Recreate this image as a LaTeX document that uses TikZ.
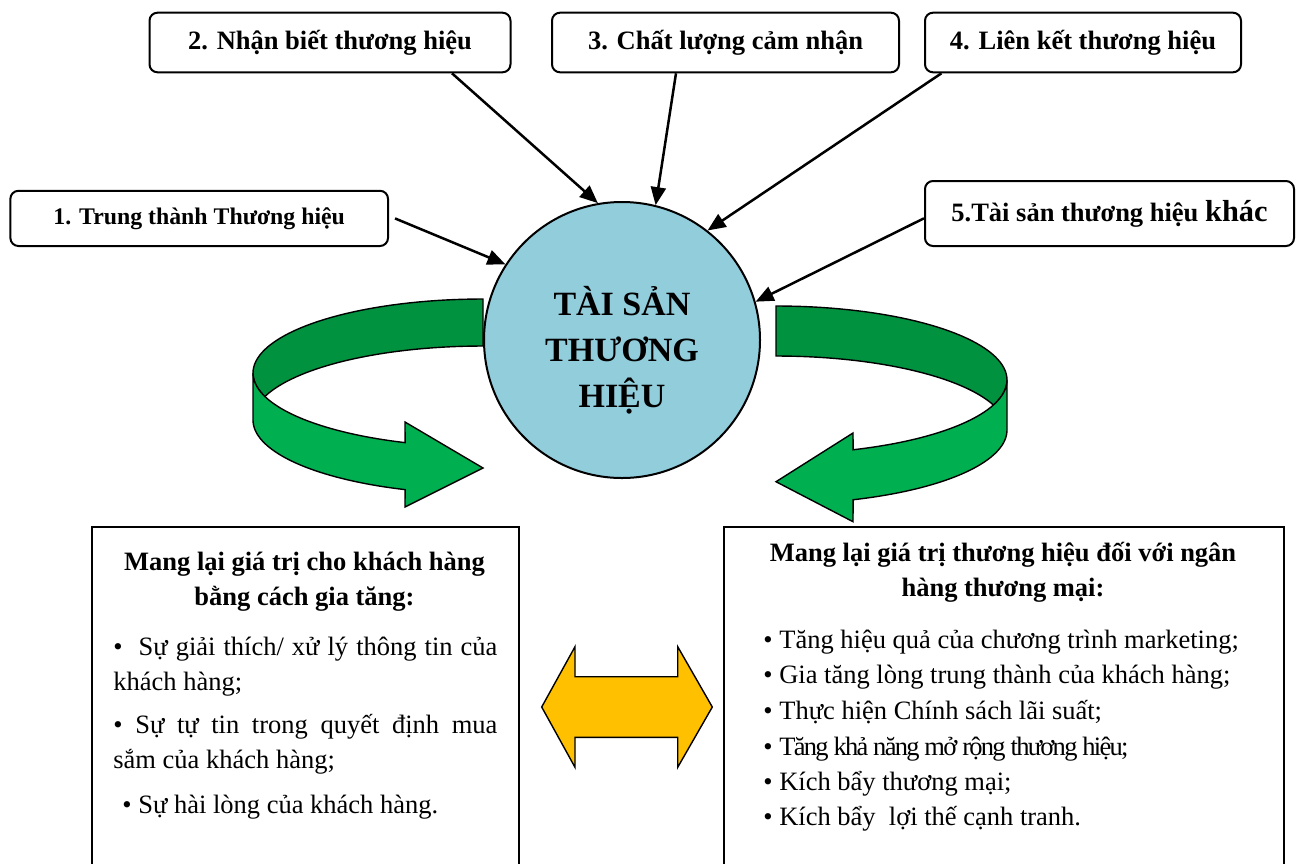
\documentclass[tikz,border=0pt]{standalone}
\usepackage{fontspec}
\setmainfont{Liberation Serif}
\usetikzlibrary{arrows.meta,calc}
\definecolor{circfill}{HTML}{92CDDC}
\definecolor{dkgreen}{HTML}{00923F}
\definecolor{ltgreen}{HTML}{00B050}
\definecolor{gold}{HTML}{FFC000}
\begin{document}
\begin{tikzpicture}[x=0.5pt,y=-0.5pt,
  topbox/.style={draw, line width=1pt, rounded corners=4pt, inner sep=0pt,
    font=\fontsize{13.25}{16}\selectfont\bfseries, minimum height=29.8pt},
  link/.style={line width=1.25pt, -{Triangle[length=9pt,width=7.5pt]}},
  body/.style={inner sep=0pt, anchor=base west, font=\fontsize{13.25}{16}\selectfont},
  head/.style={inner sep=0pt, anchor=base, font=\fontsize{13.25}{16}\selectfont\bfseries},
  ribbon/.style={line width=0.7pt, draw=black},
  bigbox/.style={draw, line width=1pt, anchor=north west, inner sep=0pt, minimum height=200pt},
]
\useasboundingbox (0,0) rectangle (1296,863);

% ---- top boxes
\node[topbox, minimum width=180.5pt] (b2) at (330,42.5) {2. Nhận biết thương hiệu};
\node[topbox, minimum width=173.5pt] (b3) at (725.5,42.5) {3. Chất lượng cảm nhận};
\node[topbox, minimum width=158pt] (b4) at (1083,42.5) {4. Liên kết thương hiệu};
\node[topbox, minimum width=188.8pt, minimum height=27.6pt, font=\fontsize{11.9}{14}\selectfont\bfseries] (b1) at (199.2,218.4) {1. Trung thành Thương hiệu};
\node[topbox, minimum width=184.5pt, minimum height=32.5pt] (b5) at (1109.5,213.5) {5.Tài sản thương hiệu {\fontsize{15.2}{16}\selectfont khác}};

% ---- left green ribbon arrow
\filldraw[ribbon, fill=dkgreen]
  plot[domain=270:180, samples=40] ({483+230*cos(\x)},{373+74*sin(\x)})
  -- plot[domain=180:161.5, samples=10] ({483+230*cos(\x)},{373+74*sin(\x)})
  -- plot[domain=198.5:270, samples=30] ({483+230*cos(\x)},{420+74*sin(\x)})
  -- cycle;
\filldraw[ribbon, fill=ltgreen]
  plot[domain=180:109.8, samples=40] ({483+230*cos(\x)},{373+74*sin(\x)})
  -- (405,422) -- (483,468) -- (405,507)
  -- plot[domain=109.8:180, samples=40] ({483+230*cos(\x)},{420+74*sin(\x)})
  -- cycle;

% ---- right green ribbon arrow
\filldraw[ribbon, fill=dkgreen]
  plot[domain=270:360, samples=40] ({776+231*cos(\x)},{380+74*sin(\x)})
  -- plot[domain=360:378.8, samples=10] ({776+231*cos(\x)},{380+74*sin(\x)})
  -- plot[domain=341.2:270, samples=30] ({776+231*cos(\x)},{430+74*sin(\x)})
  -- cycle;
\filldraw[ribbon, fill=ltgreen]
  plot[domain=0:70.5, samples=40] ({776+231*cos(\x)},{380+74*sin(\x)})
  -- (853,433) -- (776,481.7) -- (853,521.7)
  -- plot[domain=70.5:0, samples=40] ({776+231*cos(\x)},{430+74*sin(\x)})
  -- cycle;

% ---- central circle
\node[circle, draw, line width=1pt, fill=circfill, minimum size=138pt, inner sep=0pt] (c) at (622,340) {};
\node[align=center, inner sep=0pt, font=\fontsize{17}{23}\selectfont\bfseries] (ct) at (622,350) {TÀI SẢN\\THƯƠNG\\HIỆU};

% ---- connectors
\draw[link] ([xshift=3pt]b1.east) -- (c.147.5);
\draw[link] ([xshift=61pt]b2.south) -- (c.100.7);
\draw[link] ([xshift=-24.75pt]b3.south) -- (c.76.2);
\draw[link] ([xshift=-70.8pt]b4.south) -- (c.52.4);
\draw[link] ([yshift=-2.4pt]b5.west) -- (c.16.6);

% ---- bottom boxes
\node[bigbox, minimum width=213.6pt] (lbox) at (91,526) {};
\node[bigbox, minimum width=280pt] (rbox) at (723,526) {};

% left box text
\node[head] (lt1) at (304.5,570) {Mang lại giá trị cho khách hàng};
\node[head] (lt2) at (304.5,605) {bằng cách gia tăng:};
\node[body] (l1) at (113,655) {\makebox[192pt][s]{•\ \ Sự giải thích/ xử lý thông tin của}};
\node[body] (l2) at (113,690) {khách hàng;};
\node[body] (l3) at (113,733) {\makebox[192pt][s]{• Sự tự tin trong quyết định mua}};
\node[body] (l4) at (113,768) {sắm của khách hàng;};
\node[body] (l5) at (122,813) {• Sự hài lòng của khách hàng.};

% right box text
\node[head] (rt1) at (1003,561.7) {Mang lại giá trị thương hiệu đối với ngân};
\node[head] (rt2) at (1003,596.7) {hàng thương mại:};
\node[body] (r1) at (763,648) {• Tăng hiệu quả của chương trình marketing;};
\node[body] (r2) at (763,683) {• Gia tăng lòng trung thành của khách hàng;};
\node[body] (r3) at (763,719) {• Thực hiện Chính sách lãi suất;};
\node[body] (r4) at (763,755) {• {\addfontfeatures{LetterSpace=-6.5}Tăng khả năng mở rộng thương hiệu;}};
\node[body] (r5) at (763,790) {• Kích bẩy thương mại;};
\node[body] (r6) at (763,825) {• Kích bẩy\ \ lợi thế cạnh tranh.};

% ---- yellow double arrow
\filldraw[fill=gold, draw=black, line width=0.7pt]
  (541.7,707) -- (575,646.7) -- (575,676.7) -- (677.7,676.7) -- (677.7,646.7)
  -- (712.3,707) -- (677.7,767.3) -- (677.7,737.3) -- (575,737.3) -- (575,767.3) -- cycle;
\end{tikzpicture}
\end{document}
